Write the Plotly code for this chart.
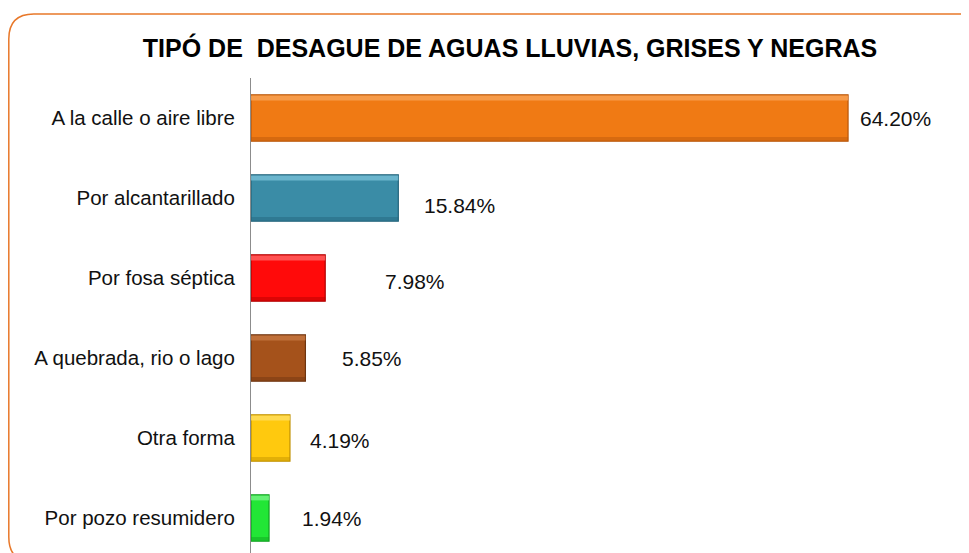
import plotly.graph_objects as go

# ---- data (top-to-bottom order as shown) ----
categories = ["A la calle o aire libre", "Por alcantarillado", "Por fosa séptica",
              "A quebrada, rio o lago", "Otra forma", "Por pozo resumidero"]
values = [64.20, 15.84, 7.98, 5.85, 4.19, 1.94]
value_labels = ["64.20%", "15.84%", "7.98%", "5.85%", "4.19%", "1.94%"]
bar_colors = ["#F07A14", "#3A8CA6", "#FF0A0A", "#A5521B", "#FFC90E", "#22E636"]
light_colors = ["#F9A75C", "#7CC3DA", "#FF6A6A", "#C97A45", "#FFE066", "#7CF58A"]
edge_colors = ["#B8560A", "#22637A", "#B00000", "#6E3510", "#C09000", "#10A020"]
title_text = "TIPÓ DE  DESAGUE DE AGUAS LLUVIAS, GRISES Y NEGRAS"

# label placement offsets (data units from bar end to label centre) and vertical nudges
label_offsets = [5.05, 6.63, 9.65, 7.16, 5.38, 6.77]
label_yshift = [0, -7, -3, 0, -2, 0]

# ---- layout geometry (pixels, page has an 8px body margin) ----
OFF = 8
W, H = 969 - OFF, 553 - OFF
L, R, T, B = 251 - OFF, 0, 78 - OFF, 0
pw, ph = W - L - R, H - T - B
xmax = pw / 9.30
cats = categories[::-1]
vals = values[::-1]
FONT = "Liberation Sans, Arial, sans-serif"
BW = 0.58
STRIP = 0.06

def px(x):
    return (x - OFF - L) / pw

def py(y):
    return (H - B - (y - OFF)) / ph

fig = go.Figure()
fig.add_trace(go.Bar(
    y=cats, x=vals, orientation="h",
    marker=dict(color=bar_colors[::-1], line=dict(color=edge_colors[::-1], width=1.2)),
    width=BW, hoverinfo="skip",
))
# bevel: light top strip and dark bottom strip
fig.add_trace(go.Bar(
    y=cats, x=vals, orientation="h",
    marker=dict(color=light_colors[::-1], line=dict(width=0)),
    width=STRIP, offset=BW / 2 - STRIP - 0.01, hoverinfo="skip", opacity=0.75,
))
fig.add_trace(go.Bar(
    y=cats, x=vals, orientation="h",
    marker=dict(color=edge_colors[::-1], line=dict(width=0)),
    width=STRIP * 0.7, offset=-BW / 2 + 0.01, hoverinfo="skip", opacity=0.45,
))

annotations = []
for c, v, t, off, ys in zip(categories, values, value_labels, label_offsets, label_yshift):
    annotations.append(dict(
        x=v + off, y=c, xref="x", yref="y", text=t, showarrow=False,
        xanchor="center", yanchor="middle", yshift=ys,
        font=dict(family=FONT, size=21, color="#111111"),
    ))

# rounded orange border (extends past right / bottom edges)
x0, y0, x1, y1, r = 8.8, 14, 990, 562, 25
path = (f"M {px(x0)},{py(y0 + r)} Q {px(x0)},{py(y0)} {px(x0 + r)},{py(y0)} "
        f"L {px(x1 - r)},{py(y0)} Q {px(x1)},{py(y0)} {px(x1)},{py(y0 + r)} "
        f"L {px(x1)},{py(y1 - r)} Q {px(x1)},{py(y1)} {px(x1 - r)},{py(y1)} "
        f"L {px(x0 + r)},{py(y1)} Q {px(x0)},{py(y1)} {px(x0)},{py(y1 - r)} Z")

fig.update_layout(
    width=W, height=H,
    margin=dict(l=L, r=R, t=T, b=B, pad=0),
    paper_bgcolor="white", plot_bgcolor="white",
    showlegend=False, barmode="overlay",
    title=dict(text=f"<b>{title_text}</b>", x=(510 - OFF) / W, xanchor="center",
               y=1 - (48 - OFF) / H, yanchor="middle",
               font=dict(family=FONT, size=25, color="#000000")),
    xaxis=dict(range=[0, xmax], visible=False, fixedrange=True),
    yaxis=dict(categoryorder="array", categoryarray=cats,
               range=[-0.4375, 5.5], showline=True, linecolor="#8C8C8C", linewidth=1,
               showgrid=False, zeroline=False, ticks="", ticklabelstandoff=11,
               tickfont=dict(family=FONT, size=20.5, color="#111111"),
               fixedrange=True),
    annotations=annotations,
    shapes=[dict(type="path", path=path, xref="paper", yref="paper",
                 line=dict(color="#E8782A", width=1.5), fillcolor="rgba(0,0,0,0)", layer="above")],
)

fig.write_html("out.html")
